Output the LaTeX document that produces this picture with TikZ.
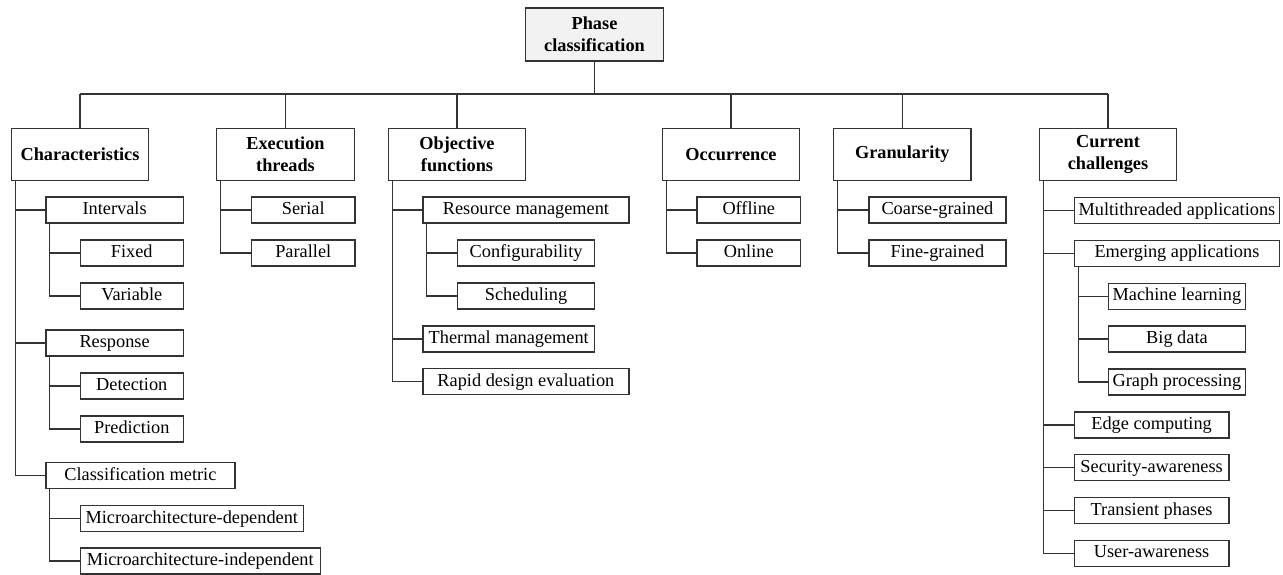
\documentclass[tikz,border=0pt]{standalone}
\usepackage{fontspec}
\setmainfont{Liberation Serif}
\begin{document}
\begin{tikzpicture}[x=0.5pt,y=-0.5pt,line width=0.6pt,black!80,
	every node/.style={draw=black!80,text=black,inner sep=0pt,font=\fontsize{9.15}{11}\selectfont},
	cat/.style={minimum width=68.7pt,minimum height=25.75pt,align=center,font=\fontsize{9.15}{11}\selectfont\bfseries},
	leaf/.style={anchor=west,minimum width=#1*0.5pt,minimum height=13pt,text height=6.6pt,text depth=2pt}]
		\useasboundingbox (0,0) rectangle (1283,574);
		% root and first level
		\node[cat,fill=black!5,minimum height=26.5pt] (pc) at (594.5,34.5) {Phase\\classification};
		\node[cat] (chr) at (80,154.5) {Characteristics};
		\node[cat] (exe) at (285.5,154.5) {Execution\\threads};
		\node[cat] (obj) at (457,154.5) {Objective\\functions};
		\node[cat] (occ) at (731,154.5) {Occurrence};
		\node[cat] (gra) at (902.3,154.5) {Granularity};
		\node[cat] (cur) at (1108,154.5) {Current\\challenges};
		% characteristics
		\node[leaf=137.4] (int) at (45.3,210) {Intervals};
		\node[leaf=103] (fix) at (79.7,253) {Fixed};
		\node[leaf=103] (var) at (79.7,296) {Variable};
		\node[leaf=137.4] (res) at (45.3,343) {Response};
		\node[leaf=103] (det) at (79.7,386) {Detection};
		\node[leaf=103] (pre) at (79.7,429) {Prediction};
		\node[leaf=189] (cm) at (45.3,475.7) {Classification metric};
		\node[leaf=223] (mad) at (79.7,518.7) {Microarchitecture-dependent};
		\node[leaf=240] (mai) at (79.7,561) {Microarchitecture-independent};
		% execution threads
		\node[leaf=103.3] (ser) at (251,210) {Serial};
		\node[leaf=103.3] (par) at (251,253) {Parallel};
		% objective functions
		\node[leaf=206] (rm) at (422.3,210) {Resource management};
		\node[leaf=137] (cfg) at (457,253) {Configurability};
		\node[leaf=137] (sch) at (457,296) {Scheduling};
		\node[leaf=171.7] (tm) at (422.3,339) {Thermal management};
		\node[leaf=206] (rde) at (422.3,381.7) {Rapid design evaluation};
		% occurrence
		\node[leaf=103.7] (off) at (696.3,210) {Offline};
		\node[leaf=103.7] (onl) at (696.3,253) {Online};
		% granularity
		\node[leaf=137] (cg) at (868.3,210) {Coarse-grained};
		\node[leaf=137] (fg) at (868.3,253) {Fine-grained};
		% current challenges
		\node[leaf=205.3] (mta) at (1073.7,210.5) {Multithreaded applications};
		\node[leaf=205.3] (ema) at (1073.7,253.3) {Emerging applications};
		\node[leaf=137.3] (ml) at (1107.7,296.3) {Machine learning};
		\node[leaf=137.3] (bd) at (1107.7,339) {Big data};
		\node[leaf=137.3] (gp) at (1107.7,382) {Graph processing};
		\node[leaf=154.6] (ec) at (1073.7,425) {Edge computing};
		\node[leaf=154.6] (sa) at (1073.7,467.7) {Security-awareness};
		\node[leaf=154.6] (tp) at (1073.7,510.5) {Transient phases};
		\node[leaf=154.6] (ua) at (1073.7,553.2) {User-awareness};
		% bus
		\coordinate (bus) at (594,94);
		\draw (pc.south) -- (pc.south |- bus);
		\draw (chr.north |- bus) -- (cur.north |- bus);
		\foreach \n in {chr,exe,obj,occ,gra,cur}
		\draw (\n.north) -- (\n.north |- bus);
		% trunks
		\foreach \n in {chr,exe,obj,occ,gra,cur,int,res,cm,rm,ema}
		\coordinate (\n-t) at ([xshift=2.2pt]\n.south west);
		\foreach \c in {int,res,cm} \draw (chr-t) |- (\c.west);
		\foreach \c in {fix,var} \draw (int-t) |- (\c.west);
		\foreach \c in {det,pre} \draw (res-t) |- (\c.west);
		\foreach \c in {mad,mai} \draw (cm-t) |- (\c.west);
		\foreach \c in {ser,par} \draw (exe-t) |- (\c.west);
		\foreach \c in {rm,tm,rde} \draw (obj-t) |- (\c.west);
		\foreach \c in {cfg,sch} \draw (rm-t) |- (\c.west);
		\foreach \c in {off,onl} \draw (occ-t) |- (\c.west);
		\foreach \c in {cg,fg} \draw (gra-t) |- (\c.west);
		\foreach \c in {mta,ema,ec,sa,tp,ua} \draw (cur-t) |- (\c.west);
		\foreach \c in {ml,bd,gp} \draw (ema-t) |- (\c.west);
\end{tikzpicture}
\end{document}
